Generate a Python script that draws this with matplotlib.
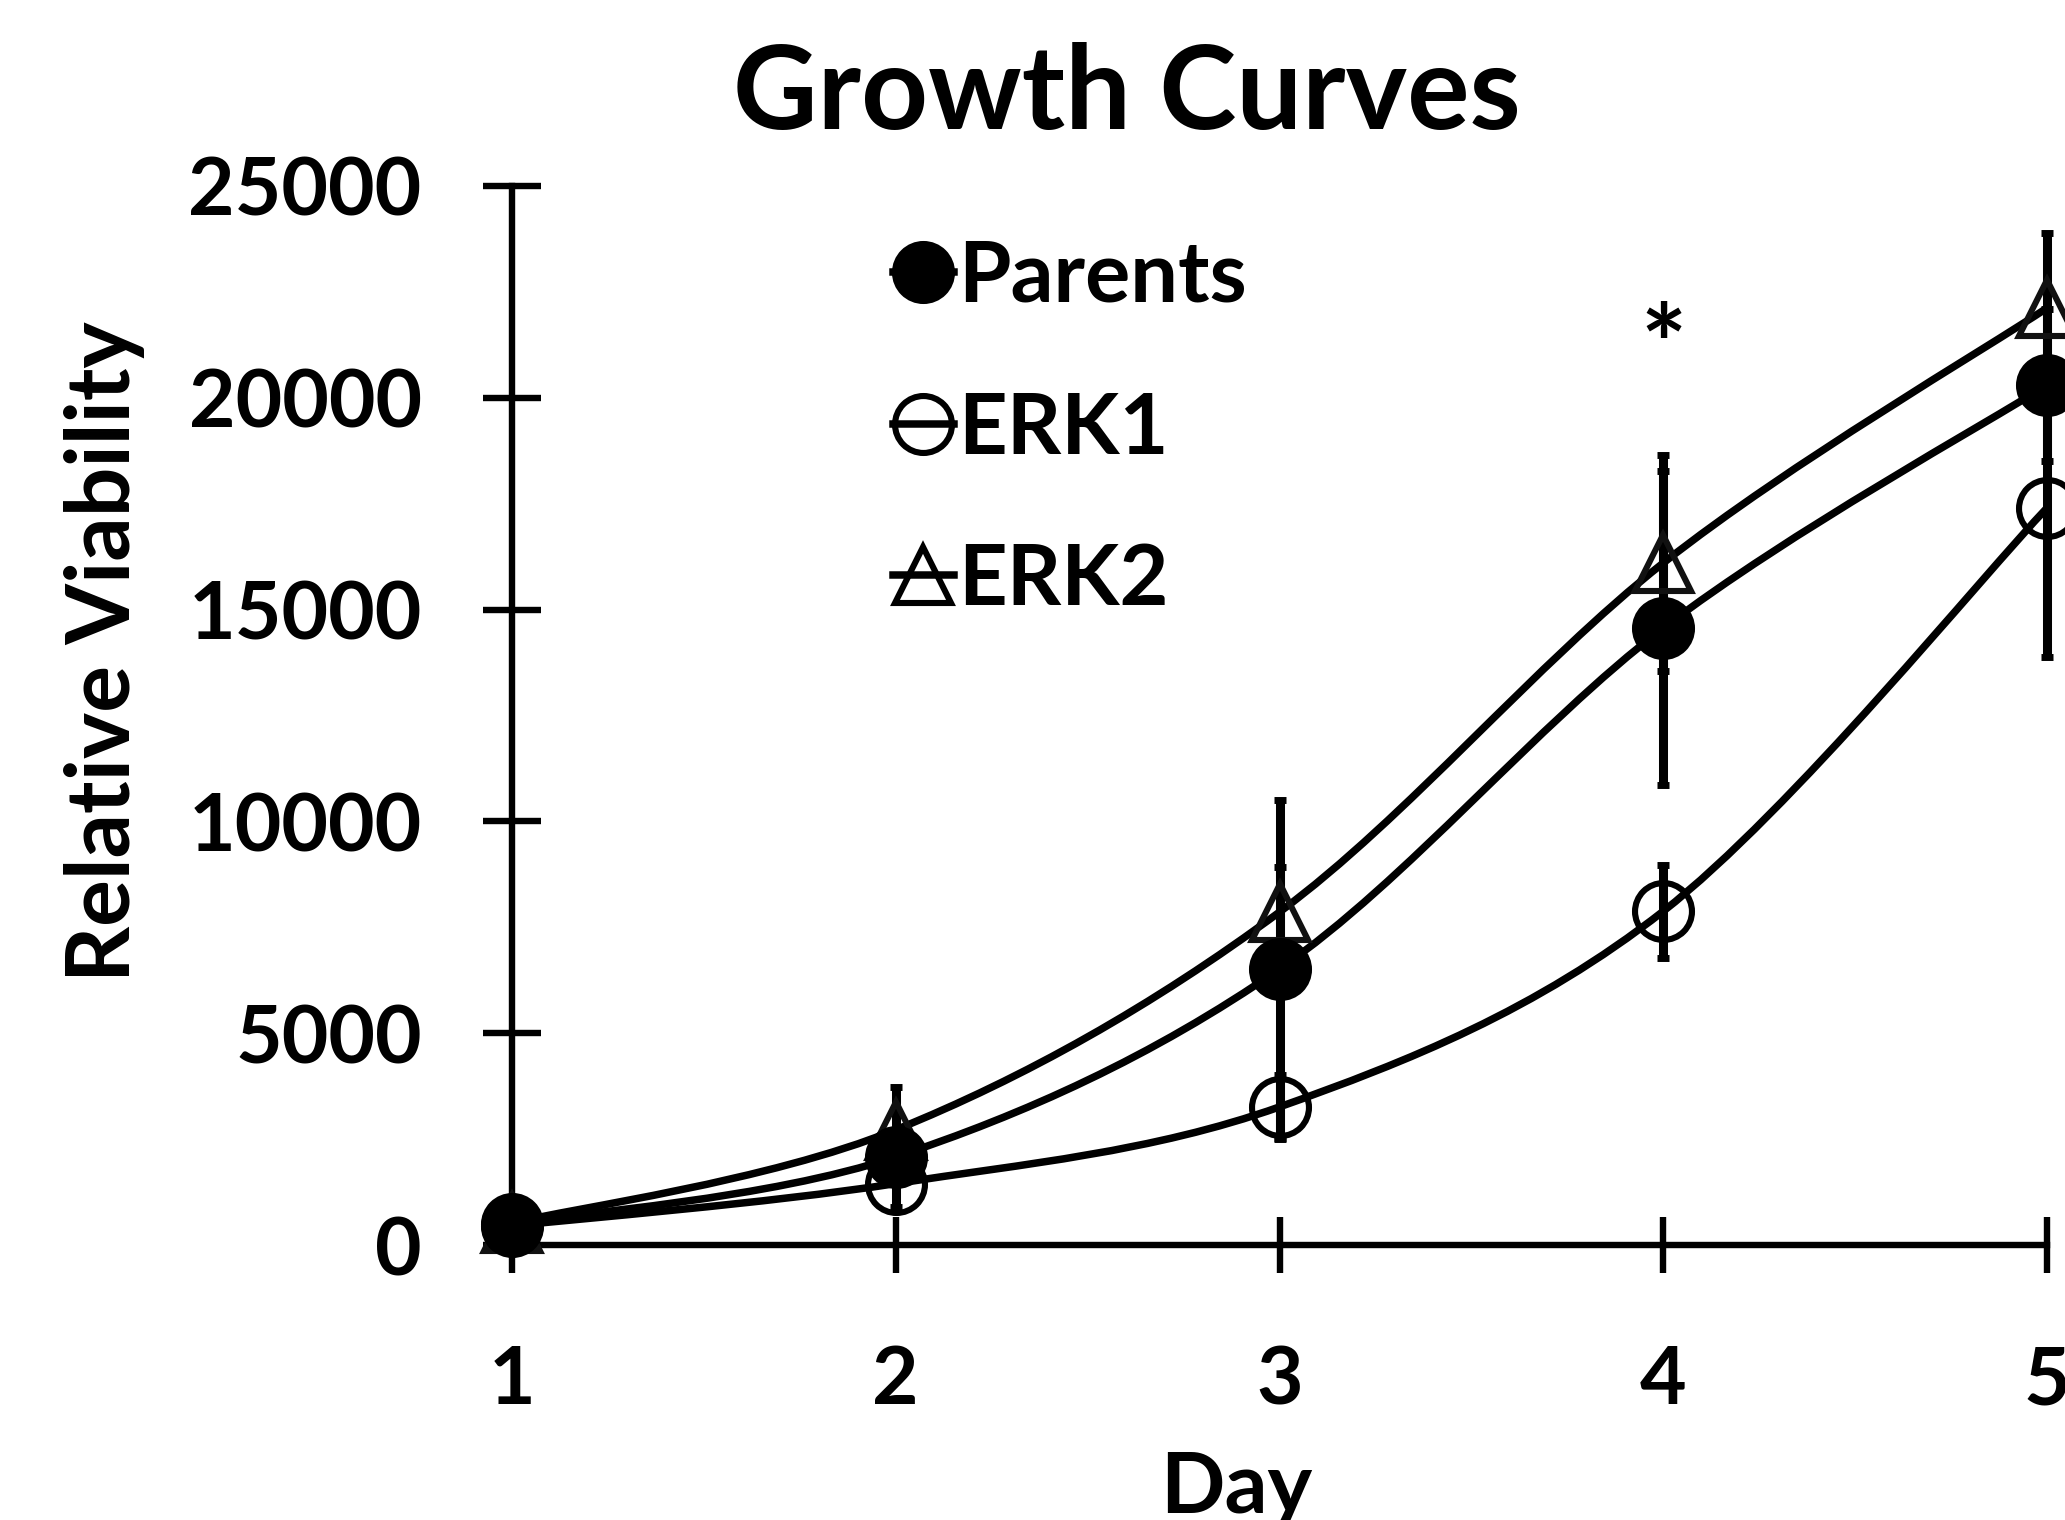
import matplotlib
matplotlib.use("Agg")
import matplotlib.pyplot as plt
from matplotlib.path import Path
from matplotlib.patches import PathPatch
import numpy as np

plt.rcParams["font.family"] = ["Lato", "DejaVu Sans"]
plt.rcParams["font.weight"] = "bold"

days = [1, 2, 3, 4, 5]
parents = [500, 2080, 6515, 14565, 20300]
parents_err = [60, 400, 4000, 3700, 1800]
erk1 = [450, 1450, 3260, 7880, 17400]
erk1_err = [60, 550, 750, 1100, 3520]
erk2 = [520, 2720, 7860, 16100, 22120]
erk2_err = [60, 1000, 1070, 2550, 1770]
yticks = [0, 5000, 10000, 15000, 20000, 25000]

FS = 58
LW = 5.4


def smooth_path(xs, ys):
    # Excel-style smoothed line: cubic bezier through every point
    pts = np.column_stack([xs, ys]).astype(float)
    n = len(pts)
    verts = [pts[0]]
    codes = [Path.MOVETO]
    for i in range(n - 1):
        p0 = pts[max(i - 1, 0)]
        p1 = pts[i]
        p2 = pts[i + 1]
        p3 = pts[min(i + 2, n - 1)]
        c1 = p1 + (p2 - p0) / 6.0
        c2 = p2 - (p3 - p1) / 6.0
        verts += [c1, c2, p2]
        codes += [Path.CURVE4] * 3
    return Path(verts, codes)


fig = plt.figure(figsize=(20.65, 15.2), dpi=100)
ax = fig.add_axes([512 / 2065, 1 - 1245 / 1520, 1535 / 2065, 1059 / 1520])

series = [
    ("Parents", parents, parents_err, "o", "black"),
    ("ERK1", erk1, erk1_err, "o", "none"),
    ("ERK2", erk2, erk2_err, "^", "none"),
]

for name, vals, err, mk, fc in series:
    ax.add_patch(PathPatch(smooth_path(days, vals), facecolor="none",
                           edgecolor="black", lw=LW, zorder=2))
    ax.errorbar(days, vals, yerr=err, fmt="none", ecolor="black",
                elinewidth=6.5, capsize=4.5, capthick=5, zorder=3,
                clip_on=False)

for name, vals, err, mk, fc in reversed(series):
    ms = 41 if mk == "o" else 40
    ax.plot(days, vals, linestyle="none", marker=mk, markersize=ms,
            markerfacecolor=fc, markeredgecolor="#111111" if mk == "^" else "black",
            markeredgewidth=4.4, zorder=4, clip_on=False)

# legend handles
handles = []
for name, vals, err, mk, fc in series:
    h, = ax.plot([], [], color="black", lw=LW, marker=mk,
                 markersize=41 if mk == "o" else 40, markerfacecolor=fc,
                 markeredgecolor="black", markeredgewidth=4.4)
    handles.append(h)
ax.legend(handles, [s[0] for s in series], loc="upper left",
          bbox_to_anchor=(0.248, 0.95), frameon=False, fontsize=61,
          handlelength=0.72, handletextpad=0.05, labelspacing=0.88,
          borderpad=0, borderaxespad=0, numpoints=1)

ax.text(4, 20350, "*", ha="center", va="baseline", fontsize=78,
        fontweight="bold")

ax.set_xlim(1, 5)
ax.set_ylim(0, 25000)
ax.set_xticks(days)
ax.set_yticks(yticks)
ax.set_xticklabels([str(d) for d in days])
ax.set_yticklabels([str(v) for v in yticks])
for s in ["top", "right"]:
    ax.spines[s].set_visible(False)
for s in ["left", "bottom"]:
    ax.spines[s].set_linewidth(4.6)
ax.tick_params(axis="y", direction="inout", length=42, width=4.6,
               labelsize=FS, pad=44)
ax.tick_params(axis="x", direction="inout", length=41, width=4.6,
               labelsize=FS, pad=51)

ax.set_ylabel("Relative Viability", fontsize=63, fontweight="bold")
ax.yaxis.label.set_va("center")
ax.yaxis.set_label_coords((105 - 512) / 1535, (1245 - 652) / 1059)

fig.text(1236 / 2065, 7 / 1520, "Day", ha="center", va="baseline",
         fontsize=61, fontweight="bold")
fig.text(1127 / 2065, 1 - 129 / 1520, "Growth Curves", ha="center",
         va="baseline", fontsize=84, fontweight="bold")

fig.savefig("out.png", dpi=100)
